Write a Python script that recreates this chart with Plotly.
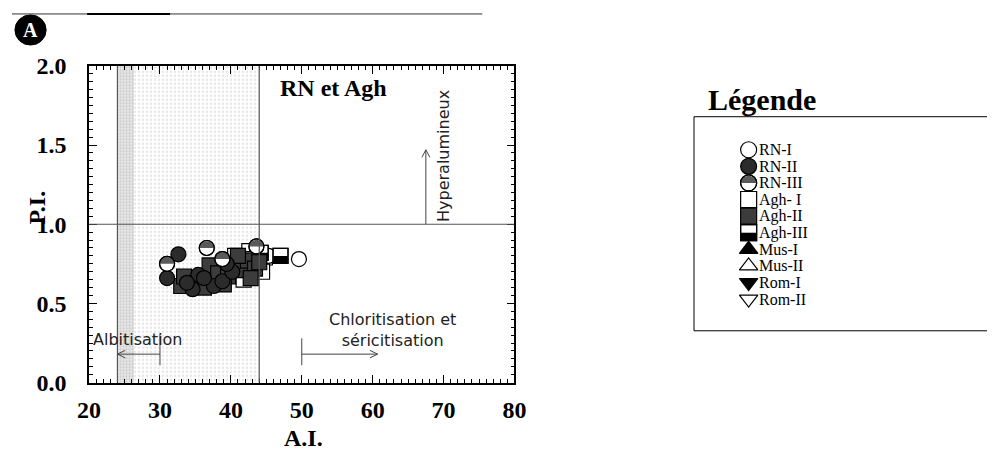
import numpy as np
import plotly.graph_objects as go

# ---------------- data ----------------
rn1_x = [49.6, 45.3]
rn1_y = [0.78, 0.80]

rn2_x = [32.6, 31.0, 35.4, 34.6, 37.6, 38.8, 36.2, 33.8, 40.2, 39.4]
rn2_y = [0.81, 0.66, 0.68, 0.59, 0.61, 0.64, 0.66, 0.63, 0.70, 0.75]

rn3_x = [31.0, 36.6, 43.6, 38.8]
rn3_y = [0.75, 0.85, 0.86, 0.78]

agh1_x = [44.8, 44.4, 41.8, 42.6, 40.6]
agh1_y = [0.79, 0.70, 0.65, 0.83, 0.80]

agh2_x = [33.0, 33.4, 35.2, 37.0, 38.2, 39.6, 40.8, 41.6, 42.4, 43.4, 44.0, 36.2, 39.0, 41.0, 42.8]
agh2_y = [0.61, 0.67, 0.63, 0.74, 0.69, 0.67, 0.74, 0.71, 0.77, 0.72, 0.76, 0.60, 0.62, 0.80, 0.66]

agh3_x = [47.0, 42.2, 44.2, 39.8]
agh3_y = [0.80, 0.78, 0.82, 0.72]

legend_labels = ["RN-I", "RN-II", "RN-III", "Agh- I", "Agh-II", "Agh-III",
                 "Mus-I", "Mus-II", "Rom-I", "Rom-II"]

x_ticks = [20, 30, 40, 50, 60, 70, 80]
y_ticks = [0.0, 0.5, 1.0, 1.5, 2.0]
y_tick_text = ["0.0", "0.5", "1.0", "1.5", "2.0"]

band_x = [24, 44]          # limits of the shaded field
pi_limit = 1.0             # hyperaluminous limit

# ---------------- geometry ----------------
# The page body keeps its default 8 px margin, so the figure is sized to
# fill the 1003 x 472 window exactly; all positions below are window pixels.
PAGE_W, PAGE_H = 1003, 472
OFF = 8
FW, FH = PAGE_W - 2 * OFF, PAGE_H - 2 * OFF

PL, PR, PT, PB = 87, 523, 64, 400
X_RANGE = [20, 80]
Y_RANGE = [0, 2]
ppx = (PR - PL) / (X_RANGE[1] - X_RANGE[0])   # pixels per A.I. unit
ppy = (PB - PT) / (Y_RANGE[1] - Y_RANGE[0])   # pixels per P.I. unit


def fx(p):
    return (p - OFF) / FW


def fy(p):
    return 1 - (p - OFF) / FH


SERIF = "Liberation Serif"
SANS = "DejaVu Sans"
DARK = "#2b2b2b"
GRAY2 = "#3c3c3c"
HALF = "#5a5a5a"

MS = 15  # marker size (px)


def half_disc(xs, ys, r, sx, sy, upper=True):
    t = np.linspace(0, np.pi, 30)
    sgn = 1 if upper else -1
    ox, oy = [], []
    for x, y in zip(xs, ys):
        ox += list(x + r / sx * np.cos(t)) + [None]
        oy += list(y + sgn * r / sy * np.sin(t)) + [None]
    return ox, oy


def half_rect(xs, ys, s, sx, sy, lower=True):
    ox, oy = [], []
    h = s / 2
    for x, y in zip(xs, ys):
        y_far = y - h / sy if lower else y + h / sy
        ox += [x - h / sx, x + h / sx, x + h / sx, x - h / sx, x - h / sx, None]
        oy += [y, y, y_far, y_far, y, None]
    return ox, oy


fig = go.Figure()

# shaded field between the two A.I. limits (stippled texture)
fig.add_trace(go.Bar(
    x=[(band_x[0] + band_x[1]) / 2], y=[Y_RANGE[1]], width=[band_x[1] - band_x[0]],
    marker=dict(color="white", line=dict(width=0),
                pattern=dict(shape=".", fgcolor="#c8c8c8", bgcolor="white", size=4, solidity=0.25)),
    hoverinfo="skip", showlegend=False, xaxis="x", yaxis="y"))
fig.add_trace(go.Bar(
    x=[band_x[0] + 1.2], y=[Y_RANGE[1]], width=[2.4],
    marker=dict(color="white", line=dict(width=0),
                pattern=dict(shape=".", fgcolor="#a8a8a8", bgcolor="#ececec", size=3, solidity=0.45)),
    hoverinfo="skip", showlegend=False, xaxis="x", yaxis="y"))


def add_points(xs, ys, symbol, fill, xa="x", ya="y", size=MS):
    fig.add_trace(go.Scatter(
        x=xs, y=ys, mode="markers", xaxis=xa, yaxis=ya, showlegend=False, hoverinfo="skip",
        marker=dict(symbol=symbol, size=size, color=fill, line=dict(color="black", width=1.2))))


def add_half_circles(xs, ys, sx, sy, xa="x", ya="y", size=MS):
    add_points(xs, ys, "circle", "white", xa, ya, size)
    hx, hy = half_disc(xs, ys, size / 2 - 0.3, sx, sy, upper=True)
    fig.add_trace(go.Scatter(x=hx, y=hy, mode="lines", fill="toself", fillcolor=HALF,
                             line=dict(width=0, color=HALF), xaxis=xa, yaxis=ya,
                             showlegend=False, hoverinfo="skip"))
    add_points(xs, ys, "circle-open", "black", xa, ya, size)


def add_half_squares(xs, ys, sx, sy, xa="x", ya="y", size=MS):
    add_points(xs, ys, "square", "white", xa, ya, size)
    hx, hy = half_rect(xs, ys, size, sx, sy, lower=True)
    fig.add_trace(go.Scatter(x=hx, y=hy, mode="lines", fill="toself", fillcolor="black",
                             line=dict(width=0, color="black"), xaxis=xa, yaxis=ya,
                             showlegend=False, hoverinfo="skip"))
    add_points(xs, ys, "square-open", "black", xa, ya, size)


# ---------------- samples ----------------
add_points(agh1_x, agh1_y, "square", "white")
add_points(rn1_x, rn1_y, "circle", "white")
add_half_squares(agh3_x, agh3_y, ppx, ppy)
add_points(agh2_x, agh2_y, "square", GRAY2)
add_points(rn2_x, rn2_y, "circle", DARK)
add_half_circles(rn3_x, rn3_y, ppx, ppy)

# ---------------- legend (pixel overlay axes) ----------------
leg_x = 763
leg_y0 = 153
leg_dy = 17.6
rows = [leg_y0 + i * leg_dy for i in range(len(legend_labels))]
LS = 16
add_points([leg_x], [rows[0]], "circle", "white", "x2", "y2", LS)
add_points([leg_x], [rows[1]], "circle", DARK, "x2", "y2", LS)
add_half_circles([leg_x], [rows[2]], 1, -1, "x2", "y2", LS)
add_points([leg_x], [rows[3]], "square", "white", "x2", "y2", LS)
add_points([leg_x], [rows[4]], "square", GRAY2, "x2", "y2", LS)
add_half_squares([leg_x], [rows[5]], 1, -1, "x2", "y2", LS)
add_points([leg_x], [rows[6]], "triangle-up", "black", "x2", "y2", LS)
add_points([leg_x], [rows[7]], "triangle-up", "white", "x2", "y2", LS)
add_points([leg_x], [rows[8]], "triangle-down", "black", "x2", "y2", LS)
add_points([leg_x], [rows[9]], "triangle-down", "white", "x2", "y2", LS)

annotations = []
for lab, yy in zip(legend_labels, rows):
    annotations.append(dict(x=leg_x + 9, y=yy, xref="x2", yref="y2", text=lab, showarrow=False,
                            xanchor="left", yanchor="middle",
                            font=dict(family=SERIF, size=16, color="black")))
annotations.append(dict(x=fx(719), y=fy(100), xref="paper", yref="paper", text="<b>Légende</b>",
                        showarrow=False, xanchor="left", yanchor="middle",
                        font=dict(family=SERIF, size=30, color="black")))

# ---------------- plot annotations ----------------
annotations += [
    dict(x=54.5, y=1.86, xref="x", yref="y", text="<b>RN et Agh</b>", showarrow=False,
         xanchor="center", yanchor="middle",
         font=dict(family=SERIF, size=24, color="black")),
    dict(x=26.9, y=0.27, xref="x", yref="y", text="Albitisation", showarrow=False,
         xanchor="center", yanchor="middle",
         font=dict(family=SANS, size=16, color="#222")),
    dict(x=62.8, y=0.335, xref="x", yref="y", text="Chloritisation et<br>séricitisation",
         showarrow=False, align="center", xanchor="center", yanchor="middle",
         font=dict(family=SANS, size=16, color="#222")),
    dict(x=69.9, y=1.43, xref="x", yref="y", text="Hyperalumineux", showarrow=False,
         textangle=-90, xanchor="center", yanchor="middle",
         font=dict(family=SANS, size=16, color="#222")),
    dict(x=fx(307), y=fy(459), xref="paper", yref="paper", text="<b>A.I.</b>", showarrow=False,
         xanchor="center", yanchor="middle",
         font=dict(family=SERIF, size=24, color="black")),
    dict(x=fx(34), y=fy(214), xref="paper", yref="paper", text="<b>P.I.</b>", showarrow=False,
         textangle=-90, xanchor="center", yanchor="middle",
         font=dict(family=SERIF, size=24, color="black")),
    dict(x=fx(27), y=fy(26), xref="paper", yref="paper", text="<b>A</b>", showarrow=False,
         xanchor="center", yanchor="middle",
         font=dict(family=SERIF, size=20, color="white")),
]

# ---------------- shapes ----------------
LINE = dict(color="#555", width=1.2)
ARW = dict(color="#444", width=1)
hx, hy = 8 / ppx, 4 / ppy      # arrow-head length / half-width in data units
vx, vy = 4 / ppx, 8 / ppy

shapes = [
    dict(type="line", xref="x", yref="y", x0=band_x[0], x1=band_x[0], y0=0, y1=2, line=LINE),
    dict(type="line", xref="x", yref="y", x0=band_x[1], x1=band_x[1], y0=0, y1=2, line=LINE),
    dict(type="line", xref="x", yref="y", x0=20, x1=80, y0=pi_limit, y1=pi_limit, line=LINE),
    # albitisation arrow
    dict(type="line", xref="x", yref="y", x0=30, x1=24, y0=0.18, y1=0.18, line=ARW),
    dict(type="line", xref="x", yref="y", x0=30, x1=30, y0=0.11, y1=0.31, line=ARW),
    dict(type="line", xref="x", yref="y", x0=24, x1=24 + hx, y0=0.18, y1=0.18 + hy, line=ARW),
    dict(type="line", xref="x", yref="y", x0=24, x1=24 + hx, y0=0.18, y1=0.18 - hy, line=ARW),
    # chloritisation arrow
    dict(type="line", xref="x", yref="y", x0=50, x1=60.7, y0=0.18, y1=0.18, line=ARW),
    dict(type="line", xref="x", yref="y", x0=50, x1=50, y0=0.11, y1=0.28, line=ARW),
    dict(type="line", xref="x", yref="y", x0=60.7, x1=60.7 - hx, y0=0.18, y1=0.18 + hy, line=ARW),
    dict(type="line", xref="x", yref="y", x0=60.7, x1=60.7 - hx, y0=0.18, y1=0.18 - hy, line=ARW),
    # hyperaluminous arrow
    dict(type="line", xref="x", yref="y", x0=67.5, x1=67.5, y0=1.0, y1=1.47, line=ARW),
    dict(type="line", xref="x", yref="y", x0=67.5, x1=67.5 - vx, y0=1.47, y1=1.47 - vy, line=ARW),
    dict(type="line", xref="x", yref="y", x0=67.5, x1=67.5 + vx, y0=1.47, y1=1.47 - vy, line=ARW),
    # legend frame
    dict(type="rect", xref="paper", yref="paper", x0=fx(707), x1=fx(1010), y0=fy(345), y1=fy(118),
         line=dict(color="black", width=1)),
    # badge
    dict(type="circle", xref="paper", yref="paper", x0=fx(11), x1=fx(43), y0=fy(42), y1=fy(10),
         fillcolor="black", line=dict(color="black", width=1)),
    # header rule
    dict(type="line", xref="paper", yref="paper", x0=0, x1=fx(490), y0=fy(9), y1=fy(9),
         line=dict(color="#333", width=1)),
    dict(type="line", xref="paper", yref="paper", x0=fx(85), x1=fx(170), y0=fy(9), y1=fy(9),
         line=dict(color="black", width=2)),
]

axis_common = dict(showgrid=False, zeroline=False, showline=True, linecolor="black", linewidth=1.5,
                   mirror="ticks", ticks="inside", ticklen=8, tickcolor="black", tickwidth=1.2,
                   tickfont=dict(family=SERIF, size=24, color="black"))

fig.update_layout(
    width=FW, height=FH, margin=dict(l=0, r=0, t=0, b=0),
    paper_bgcolor="white", plot_bgcolor="rgba(0,0,0,0)",
    barmode="overlay", bargap=0, showlegend=False,
    xaxis=dict(domain=[fx(PL), fx(PR)], range=X_RANGE, tickvals=x_ticks,
               ticktext=[f"<b>{v}</b>" for v in x_ticks], ticklabelstandoff=5,
               minor=dict(dtick=1, ticks="inside", ticklen=4, tickcolor="black"),
               anchor="y", **axis_common),
    yaxis=dict(domain=[fy(PB), fy(PT)], range=Y_RANGE, tickvals=y_ticks,
               ticktext=[f"<b>{t}</b>" for t in y_tick_text], ticklabelstandoff=16,
               minor=dict(dtick=0.05, ticks="inside", ticklen=4, tickcolor="black"),
               anchor="x", **axis_common),
    xaxis2=dict(domain=[0, 1], range=[OFF, OFF + FW], visible=False, anchor="y2", fixedrange=True),
    yaxis2=dict(domain=[0, 1], range=[OFF + FH, OFF], visible=False, anchor="x2", fixedrange=True),
    annotations=annotations,
    shapes=shapes,
)

fig.write_html("out.html")
